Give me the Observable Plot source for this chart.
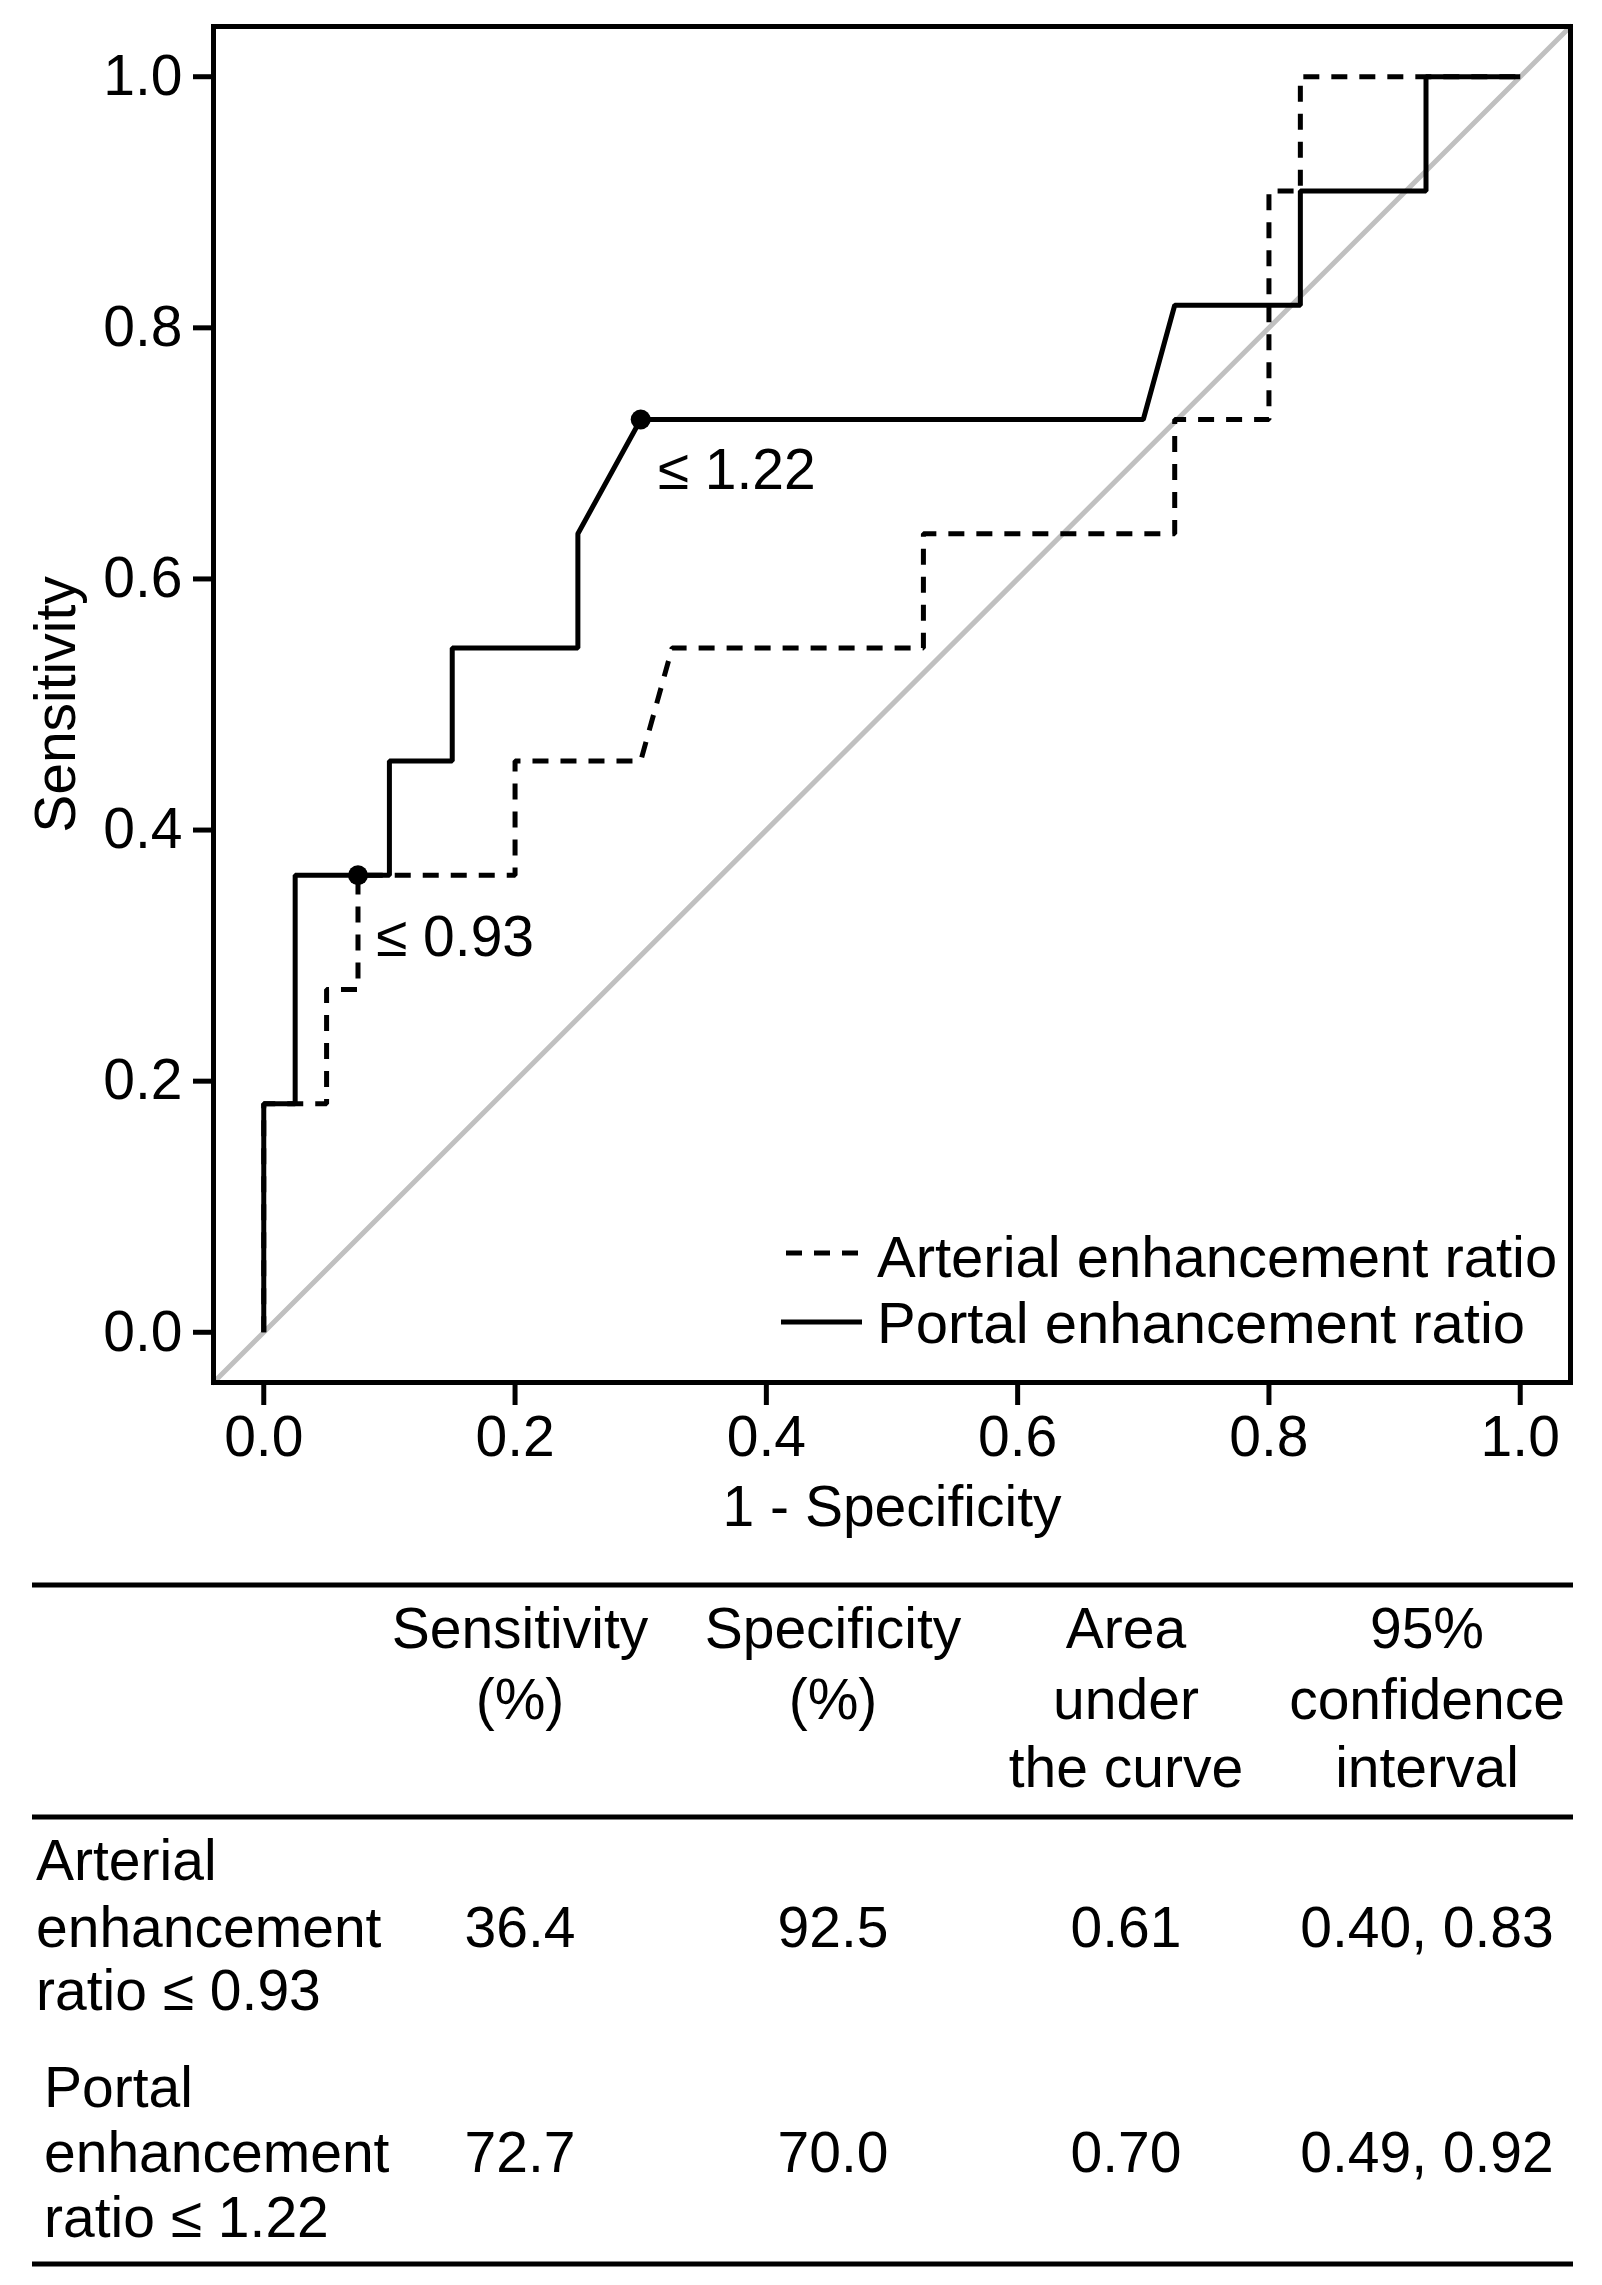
<!DOCTYPE html>
<html>
<head>
<meta charset="utf-8">
<script src="https://cdn.jsdelivr.net/npm/d3@7"></script>
<script src="https://cdn.jsdelivr.net/npm/@observablehq/plot@0.6"></script>
<style>
  body { margin: 0; background: #fff; }
  #chart svg, #table svg { display: block; }
</style>
</head>
<body>
<div id="chart"></div>
<div id="table"></div>
<script>
// ---------- data ----------
const arterialX = [0, 0, 0.05, 0.05, 0.075, 0.075, 0.2, 0.2, 0.3, 0.325, 0.525, 0.525, 0.725, 0.725, 0.8, 0.8, 0.825, 0.825, 1];
const arterialY = [0, 0.182, 0.182, 0.273, 0.273, 0.364, 0.364, 0.455, 0.455, 0.545, 0.545, 0.636, 0.636, 0.727, 0.727, 0.909, 0.909, 1, 1];
const portalX = [0, 0, 0.025, 0.025, 0.1, 0.1, 0.15, 0.15, 0.25, 0.25, 0.3, 0.7, 0.725, 0.825, 0.825, 0.925, 0.925, 1];
const portalY = [0, 0.182, 0.182, 0.364, 0.364, 0.455, 0.455, 0.545, 0.545, 0.636, 0.727, 0.727, 0.818, 0.818, 0.909, 0.909, 1, 1];
const cutoffX = [0.075, 0.3];
const cutoffY = [0.364, 0.727];
const cutoffLabels = ["≤ 0.93", "≤ 1.22"];
const seriesNames = ["Arterial enhancement ratio", "Portal enhancement ratio"];
const axisTicks = [0, 0.2, 0.4, 0.6, 0.8, 1.0];
const axisDomain = [-0.04, 1.04];
const xLabel = "1 - Specificity";
const yLabel = "Sensitivity";

const tableHeader = [
  ["Sensitivity", "(%)"],
  ["Specificity", "(%)"],
  ["Area", "under", "the curve"],
  ["95%", "confidence", "interval"]
];
const tableRowLabels = [
  ["Arterial", "enhancement", "ratio ≤ 0.93"],
  ["Portal", "enhancement", "ratio ≤ 1.22"]
];
const tableValues = [
  ["36.4", "92.5", "0.61", "0.40, 0.83"],
  ["72.7", "70.0", "0.70", "0.49, 0.92"]
];

// ---------- build tables for the library ----------
const arterial = arterialX.map((x, i) => ({x, y: arterialY[i]}));
const portal = portalX.map((x, i) => ({x, y: portalY[i]}));
const cutoffs = cutoffX.map((x, i) => ({x, y: cutoffY[i], label: cutoffLabels[i]}));

const FONT = "Liberation Sans, Arial, Helvetica, sans-serif";
const FS = 57;
const W = 1602, H = 1560;
const mL = 213, mR = 32, mT = 26, mB = H - 1382;
const LW = 5;
const DASH = "16,12";

const chart = Plot.plot({
  width: W,
  height: H,
  marginLeft: mL,
  marginRight: mR,
  marginTop: mT,
  marginBottom: mB,
  style: {fontFamily: FONT, fontSize: FS + "px", background: "#fff", color: "#000"},
  x: {domain: axisDomain},
  y: {domain: axisDomain},
  marks: [
    Plot.line(axisDomain, {x: d => d, y: d => d, stroke: "#c0c0c0", strokeWidth: 5}),
    Plot.line(arterial, {x: "x", y: "y", stroke: "#000", strokeWidth: LW, strokeDasharray: DASH, strokeLinecap: "butt", strokeLinejoin: "miter"}),
    Plot.line(portal, {x: "x", y: "y", stroke: "#000", strokeWidth: LW, strokeLinejoin: "miter", strokeLinecap: "butt"}),
    Plot.dot(cutoffs, {x: "x", y: "y", r: 10, fill: "#000", stroke: "none"}),
    Plot.text(cutoffs.slice(0, 1), {x: "x", y: "y", text: "label", textAnchor: "start", dx: 18, dy: 62, fontSize: FS, fill: "#000"}),
    Plot.text(cutoffs.slice(1, 2), {x: "x", y: "y", text: "label", textAnchor: "start", dx: 17, dy: 51, fontSize: FS, fill: "#000"}),
    Plot.frame({stroke: "#000", strokeWidth: 5}),
    Plot.axisX({ticks: axisTicks, tickFormat: d3.format(".1f"), tickSize: 23, tickPadding: 10, strokeWidth: 5, fontSize: FS,
      label: xLabel, labelAnchor: "center", labelOffset: 143, labelArrow: "none"}),
    Plot.axisY({ticks: axisTicks, tickFormat: d3.format(".1f"), tickSize: 20, tickPadding: 11, strokeWidth: 5, fontSize: FS,
      label: yLabel, labelAnchor: "center", labelOffset: 179, labelArrow: "none"})
  ]
});

// legend inside the plot frame (bottom right)
const svg = d3.select(chart);
const leg = svg.append("g").attr("font-family", FONT).attr("font-size", 58).attr("text-anchor", "start");
const legendRows = [
  {name: seriesNames[0], dash: DASH, x1: 786, x2: 862, ly: 1253, tx: 877, ty: 1277},
  {name: seriesNames[1], dash: null, x1: 781, x2: 862, ly: 1322, tx: 877, ty: 1343}
];
legendRows.forEach(r => {
  leg.append("line").attr("x1", r.x1).attr("x2", r.x2).attr("y1", r.ly).attr("y2", r.ly)
    .attr("stroke", "#000").attr("stroke-width", LW).attr("stroke-dasharray", r.dash);
  leg.append("text").attr("x", r.tx).attr("y", r.ty).attr("fill", "#000")
    .attr("text-anchor", "start").text(r.name);
});

document.getElementById("chart").appendChild(chart);

// ---------- table below the chart ----------
const TH = 2285 - H;
const off = H;
const t = d3.create("svg").attr("width", W).attr("height", TH)
  .attr("font-family", FONT).attr("font-size", FS).attr("fill", "#000");
const ruleX1 = 32, ruleX2 = 1573;
[1585, 1817, 2264].forEach(y => {
  t.append("line").attr("x1", ruleX1).attr("x2", ruleX2).attr("y1", y - off).attr("y2", y - off)
    .attr("stroke", "#000").attr("stroke-width", 5);
});
const colCenters = [520, 833, 1126, 1427];
const headerBase = [1648, 1719, 1787];
tableHeader.forEach((lines, c) => {
  lines.forEach((s, k) => {
    t.append("text").attr("x", colCenters[c]).attr("y", headerBase[k] - off)
      .attr("text-anchor", "middle").text(s);
  });
});
const rowBase = [[1880, 1947, 2010], [2107, 2172, 2237]];
const rowLeft = [36, 44];
tableRowLabels.forEach((lines, r) => {
  lines.forEach((s, k) => {
    t.append("text").attr("x", rowLeft[r]).attr("y", rowBase[r][k] - off).text(s);
  });
  tableValues[r].forEach((v, c) => {
    t.append("text").attr("x", colCenters[c]).attr("y", rowBase[r][1] - off)
      .attr("text-anchor", "middle").text(v);
  });
});
document.getElementById("table").appendChild(t.node());
</script>
</body>
</html>
